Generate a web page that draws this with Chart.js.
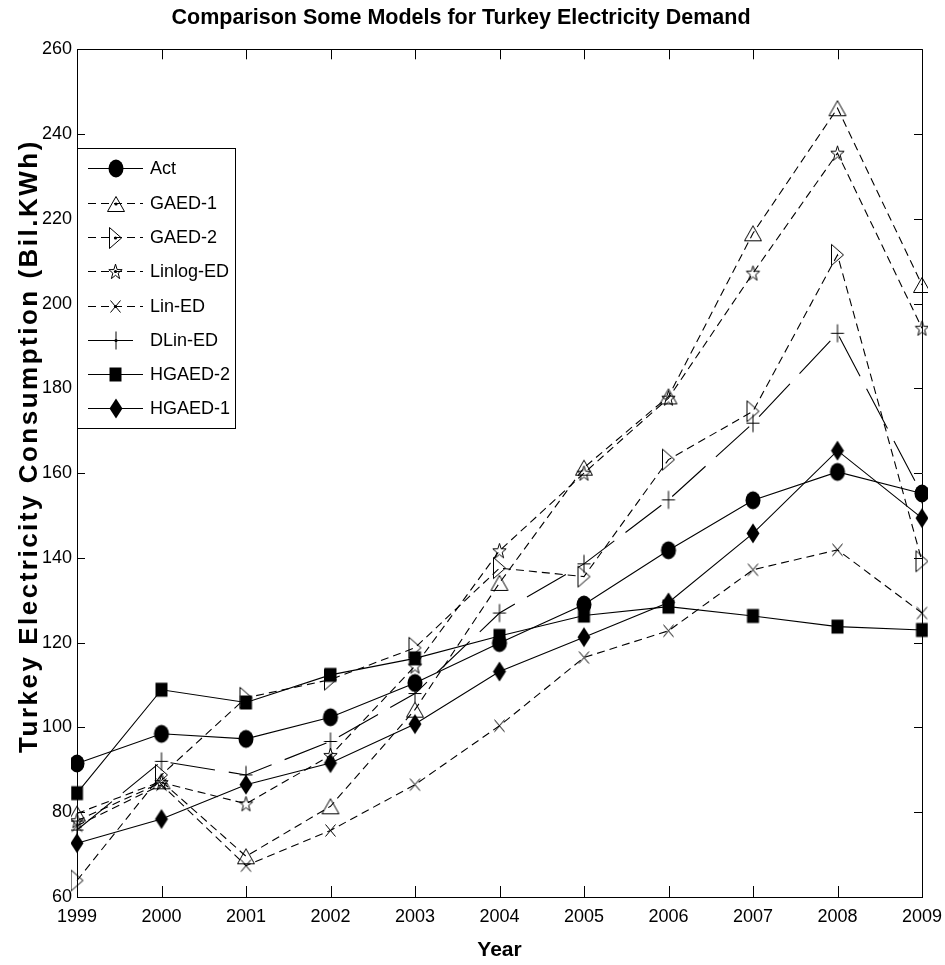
<!DOCTYPE html>
<html>
<head>
<meta charset="utf-8">
<script src="https://cdn.jsdelivr.net/npm/chart.js@4/dist/chart.umd.min.js"></script>
<style>
  html, body { margin: 0; padding: 0; background: #fff; }
  #wrap { width: 945px; height: 965px; }
</style>
</head>
<body>
<div id="wrap"><canvas id="chart" width="945" height="965"></canvas></div>
<script>
// ---- data ----
const years = ['1999', '2000', '2001', '2002', '2003', '2004', '2005', '2006', '2007', '2008', '2009'];
const act     = [91.5, 98.5, 97.3, 102.4, 110.5, 119.9, 129.0, 141.8, 153.6, 160.3, 155.2];
const gaed1   = [79.7, 87.3, 69.6, 81.4, 104.2, 134.1, 161.3, 178.1, 216.6, 246.1, 204.4];
const gaed2   = [63.9, 88.8, 107.0, 111.3, 118.8, 137.6, 135.6, 163.2, 174.6, 211.5, 139.2];
const linlog  = [78.0, 87.0, 82.0, 93.4, 114.5, 141.7, 160.0, 177.7, 207.2, 235.5, 194.2];
const linEd   = [76.8, 86.5, 67.4, 75.7, 86.5, 100.4, 116.5, 122.8, 137.2, 141.9, 127.0];
const dlinEd  = [75.8, 92.0, 88.8, 96.7, 108.0, 127.0, 138.6, 153.7, 171.8, 193.0, 155.0];
const hgaed2  = [84.5, 108.9, 105.9, 112.4, 116.3, 121.6, 126.4, 128.5, 126.3, 123.8, 123.0];
const hgaed1  = [72.7, 78.4, 86.5, 91.6, 100.8, 113.2, 121.3, 129.5, 145.8, 165.3, 149.4];
const yTickValues = [60, 80, 100, 120, 140, 160, 180, 200, 220, 240, 260];

const chartTitle = 'Comparison Some Models for Turkey Electricity Demand';
const xTitle = 'Year';
const yTitle = 'Turkey Electricity Consumption (Bil.KWh)';

// ---- styling ----
const FONT = '"Liberation Sans", Arial, Helvetica, sans-serif';
const SHORT_DASH = [8, 5];
const LONG_DASH = [45, 14];
const LINE_W = 1.1;

// Marker images (MATLAB-like symbols) drawn on small canvases
function marker(shape, w, h, dot) {
  const pad = 2;
  const c = document.createElement('canvas');
  c.width = Math.ceil(w) + pad * 2 + 1;
  c.height = Math.ceil(h) + pad * 2 + 1;
  const g = c.getContext('2d');
  const cx = c.width / 2, cy = c.height / 2, rx = w / 2, ry = h / 2;
  g.strokeStyle = '#000';
  g.fillStyle = '#000';
  g.lineWidth = 1;
  g.beginPath();
  switch (shape) {
    case 'ellipse':
      g.ellipse(cx, cy, rx, ry, 0, 0, Math.PI * 2);
      g.fill();
      break;
    case 'square':
      g.rect(cx - rx, cy - ry, w, h);
      g.fill();
      break;
    case 'diamond':
      g.moveTo(cx, cy - ry); g.lineTo(cx + rx, cy); g.lineTo(cx, cy + ry); g.lineTo(cx - rx, cy);
      g.closePath(); g.fill();
      break;
    case 'triUp':
      g.moveTo(cx, cy - ry); g.lineTo(cx + rx, cy + ry); g.lineTo(cx - rx, cy + ry);
      g.closePath(); g.stroke();
      break;
    case 'triRight':
      g.moveTo(cx - rx, cy - ry); g.lineTo(cx + rx, cy); g.lineTo(cx - rx, cy + ry);
      g.closePath(); g.stroke();
      break;
    case 'star': {
      for (let i = 0; i < 10; i++) {
        const a = -Math.PI / 2 + i * Math.PI / 5;
        const r = i % 2 === 0 ? 1 : 0.4;
        const px = cx + Math.cos(a) * rx * r;
        const py = cy + 0.08 * ry + Math.sin(a) * ry * r;
        if (i === 0) g.moveTo(px, py); else g.lineTo(px, py);
      }
      g.closePath(); g.stroke();
      break;
    }
    case 'x':
      g.moveTo(cx - rx, cy - ry); g.lineTo(cx + rx, cy + ry);
      g.moveTo(cx + rx, cy - ry); g.lineTo(cx - rx, cy + ry);
      g.stroke();
      break;
    case 'plus':
      g.moveTo(cx - rx, cy); g.lineTo(cx + rx, cy);
      g.moveTo(cx, cy - ry); g.lineTo(cx, cy + ry);
      g.stroke();
      break;
  }
  if (dot) {
    g.beginPath();
    g.arc(cx, cy, 1.6, 0, Math.PI * 2);
    g.fill();
  }
  return c;
}

const series = [
  { label: 'Act',       data: act,    shape: ['ellipse', 15, 18], dash: [] },
  { label: 'GAED-1',    data: gaed1,  shape: ['triUp', 17, 15],   dash: SHORT_DASH, dot: true },
  { label: 'GAED-2',    data: gaed2,  shape: ['triRight', 12, 21], dash: SHORT_DASH, dot: true },
  { label: 'Linlog-ED', data: linlog, shape: ['star', 14, 16],    dash: SHORT_DASH, dot: true },
  { label: 'Lin-ED',    data: linEd,  shape: ['x', 10, 12],       dash: SHORT_DASH, dot: true },
  { label: 'DLin-ED',   data: dlinEd, shape: ['plus', 13, 18],    dash: LONG_DASH, dot: true },
  { label: 'HGAED-2',   data: hgaed2, shape: ['square', 12, 14],  dash: [] },
  { label: 'HGAED-1',   data: hgaed1, shape: ['diamond', 13, 20], dash: [] }
];

series.forEach(s => {
  s.plotMarker = marker(s.shape[0], s.shape[1], s.shape[2], false);
  s.legendMarker = marker(s.shape[0], s.shape[1], s.shape[2], s.dot);
});

const datasets = series.map(s => ({
  label: s.label,
  data: s.data,
  borderColor: '#000',
  borderWidth: LINE_W,
  borderDash: s.dash,
  tension: 0,
  fill: false,
  pointStyle: s.plotMarker,
  pointRadius: 6,
  pointHoverRadius: 6,
  pointBorderWidth: 0,
  pointBackgroundColor: 'rgba(0,0,0,0)',
  pointBorderColor: 'rgba(0,0,0,0)'
}));

// Box around the plot, inward tick marks, y-axis title and the boxed legend
const framePlugin = {
  id: 'frame',
  afterDraw(chart) {
    const ctx = chart.ctx;
    const a = chart.chartArea;
    const xs = chart.scales.x, ys = chart.scales.y;
    ctx.save();
    ctx.strokeStyle = '#000';
    ctx.lineWidth = 1;
    ctx.beginPath();
    ctx.rect(Math.round(a.left) + 0.5, Math.round(a.top) + 0.5,
             Math.round(a.right) - Math.round(a.left), Math.round(a.bottom) - Math.round(a.top));
    ctx.stroke();

    ctx.beginPath();
    xs.ticks.forEach((t, i) => {
      const px = Math.round(xs.getPixelForTick(i)) + 0.5;
      ctx.moveTo(px, a.bottom); ctx.lineTo(px, a.bottom - 11);
      ctx.moveTo(px, a.top); ctx.lineTo(px, a.top + 10);
    });
    yTickValues.forEach(v => {
      const py = Math.round(ys.getPixelForValue(v)) + 0.5;
      ctx.moveTo(a.left, py); ctx.lineTo(a.left + 8, py);
      ctx.moveTo(a.right, py); ctx.lineTo(a.right - 8, py);
    });
    ctx.stroke();

    // y-axis title, letter-spaced
    ctx.save();
    ctx.translate(37, 446);
    ctx.rotate(-Math.PI / 2);
    ctx.fillStyle = '#000';
    ctx.font = 'bold 26px ' + FONT;
    if ('letterSpacing' in ctx) ctx.letterSpacing = '2.5px';
    ctx.textAlign = 'center';
    ctx.textBaseline = 'alphabetic';
    ctx.fillText(yTitle, 0, 0);
    ctx.restore();

    // legend
    const box = { x: 77.5, y: 148.5, w: 158, h: 280 };
    ctx.fillStyle = '#fff';
    ctx.fillRect(box.x, box.y, box.w, box.h);
    ctx.strokeStyle = '#000';
    ctx.strokeRect(box.x, box.y, box.w, box.h);
    ctx.font = '18px ' + FONT;
    ctx.textBaseline = 'middle';
    ctx.textAlign = 'left';
    series.forEach((s, i) => {
      const rowY = Math.round(168.3 + i * 34.3) + 0.5;
      ctx.save();
      ctx.lineWidth = LINE_W;
      ctx.setLineDash(s.dash);
      ctx.beginPath();
      ctx.moveTo(88, rowY);
      ctx.lineTo(143, rowY);
      ctx.stroke();
      ctx.restore();
      const m = s.legendMarker;
      ctx.drawImage(m, Math.round(115.5 - m.width / 2), Math.round(rowY - m.height / 2));
      ctx.fillStyle = '#000';
      ctx.fillText(s.label, 150, rowY + 1);
    });
    ctx.restore();
  }
};

new Chart(document.getElementById('chart'), {
  type: 'line',
  data: { labels: years, datasets },
  options: {
    responsive: false,
    animation: false,
    events: [],
    layout: { padding: { left: 0, right: 23, top: 0, bottom: 0 } },
    plugins: {
      legend: { display: false },
      tooltip: { enabled: false },
      title: {
        display: true,
        text: chartTitle,
        color: '#000',
        font: { family: FONT, size: 21.5, weight: 'bold', lineHeight: 1.2 },
        padding: { top: 5, bottom: 18.5 }
      }
    },
    scales: {
      x: {
        type: 'category',
        offset: false,
        grid: { display: false, drawTicks: false },
        border: { display: true, color: '#000', width: 1 },
        ticks: { color: '#000', font: { family: FONT, size: 18 }, padding: 9, maxRotation: 0, autoSkip: false },
        title: { display: true, text: xTitle, color: '#000', font: { family: FONT, size: 21, weight: 'bold', lineHeight: 1.2 }, padding: { top: 0, bottom: 2 } },
        afterFit(s) { s.height = 68; s.paddingLeft = 0; s.paddingRight = 0; }
      },
      y: {
        min: 60,
        max: 260,
        afterBuildTicks(s) { s.ticks = yTickValues.map(v => ({ value: v })); },
        grid: { display: false, drawTicks: false },
        border: { display: true, color: '#000', width: 1 },
        ticks: { color: '#000', font: { family: FONT, size: 18 }, padding: 5 },
        afterFit(s) { s.width = 77; s.paddingTop = 0; s.paddingBottom = 0; }
      }
    }
  },
  plugins: [framePlugin]
});
</script>
</body>
</html>
